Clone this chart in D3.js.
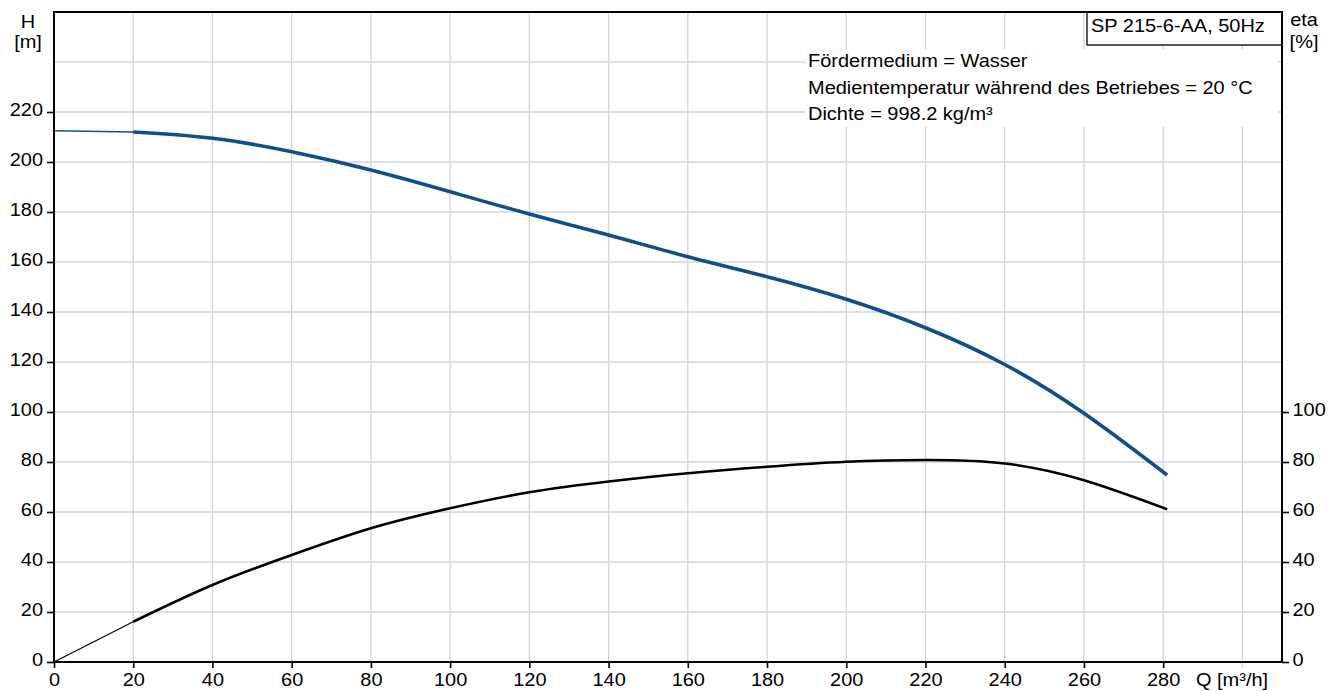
<!DOCTYPE html>
<html>
<head>
<meta charset="utf-8">
<script src="https://cdn.jsdelivr.net/npm/d3@7"></script>
<style>
  html, body { margin: 0; padding: 0; background: #fff; }
  svg { display: block; font-family: "Liberation Sans", Arial, sans-serif; }
</style>
</head>
<body>
<svg id="chart" width="1333" height="691"></svg>
<script>
// Pump curve data: flow Q [m³/h], head H [m], efficiency eta [%]
const flowQ   = [20, 40, 60, 80, 100, 120, 140, 160, 180, 200, 220, 240, 260, 281];
const headH   = [212, 209.5, 204.1, 196.8, 188.1, 179.2, 170.8, 162.1, 154.1, 145.1, 133.7, 119.0, 99.5, 74.8];
const effEta  = [16.1, 30.8, 42.8, 53.5, 61.5, 67.9, 72.2, 75.5, 78.1, 80.1, 80.8, 79.4, 72.7, 61.1];
// Extrapolated lead-in below the minimum operating flow
const leadQ   = [0, 20];
const leadH   = [212.5, 212];
const leadEta = [0, 16.1];

const xTicks   = [0, 20, 40, 60, 80, 100, 120, 140, 160, 180, 200, 220, 240, 260, 280];
const hTicks   = [0, 20, 40, 60, 80, 100, 120, 140, 160, 180, 200, 220];
const etaTicks = [0, 20, 40, 60, 80, 100];
const xGrid    = [20, 40, 60, 80, 100, 120, 140, 160, 180, 200, 220, 240, 260, 280, 300];
const yGrid    = [20, 40, 60, 80, 100, 120, 140, 160, 180, 200, 220, 240];

const pumpTitle = "SP 215-6-AA, 50Hz";
const infoLines = ["Fördermedium = Wasser",
                   "Medientemperatur während des Betriebes = 20 °C",
                   "Dichte = 998.2 kg/m³"];

const FS = 18;        // font size
const SX = 1.11;      // horizontal text stretch
const BLUE = "#0f4f8c";
const GRID = "#d2d4d6";

const svg = d3.select("#chart");
const L = 54, R = 1282, T = 12, B = 662;

const x = d3.scaleLinear().domain([0, 310]).range([L, R]);
const y = d3.scaleLinear().domain([0, 260]).range([B, T]);
const yEta = d3.scaleLinear().domain([0, 260]).range([B, T]);

function label(g, px, py, txt, anchor) {
  return g.append("text")
    .attr("transform", `translate(${px},${py}) scale(${SX},1)`)
    .attr("text-anchor", anchor || "start")
    .attr("font-size", FS)
    .attr("fill", "#000")
    .text(txt);
}

// grid
const grid = svg.append("g");
grid.selectAll("line.v").data(xGrid).join("line")
  .attr("x1", d => x(d)).attr("x2", d => x(d))
  .attr("y1", T).attr("y2", B)
  .attr("stroke", GRID).attr("stroke-width", 1.3);
grid.selectAll("line.h").data(yGrid).join("line")
  .attr("x1", L).attr("x2", R)
  .attr("y1", d => y(d)).attr("y2", d => y(d))
  .attr("stroke", GRID).attr("stroke-width", 1.3);
// small grey tick below the axis at Q = 300
svg.append("line")
  .attr("x1", x(300)).attr("x2", x(300)).attr("y1", B).attr("y2", B + 6)
  .attr("stroke", GRID).attr("stroke-width", 1.3);

// info block background
svg.append("rect").attr("x", 805).attr("y", 49).attr("width", 473).attr("height", 78)
  .attr("fill", "#fff");
infoLines.forEach((t, i) => label(svg, 808, [67, 94, 120][i], t));

// title box
svg.append("rect").attr("x", 1087).attr("y", T).attr("width", R - 1087).attr("height", 33)
  .attr("fill", "#fff").attr("stroke", "#000").attr("stroke-width", 1.3);
label(svg, 1091, 32, pumpTitle);

// curves
const lineH = d3.line().x(d => x(d[0])).y(d => y(d[1])).curve(d3.curveNatural);
const lineE = d3.line().x(d => x(d[0])).y(d => yEta(d[1])).curve(d3.curveNatural);

svg.append("path").attr("d", lineH(d3.zip(leadQ, leadH)))
  .attr("fill", "none").attr("stroke", BLUE).attr("stroke-width", 1.3);
svg.append("path").attr("d", lineH(d3.zip(flowQ, headH)))
  .attr("fill", "none").attr("stroke", BLUE).attr("stroke-width", 3.6);

svg.append("path").attr("d", lineE(d3.zip(leadQ, leadEta)))
  .attr("fill", "none").attr("stroke", "#000").attr("stroke-width", 1.2);
svg.append("path").attr("d", lineE(d3.zip(flowQ, effEta)))
  .attr("fill", "none").attr("stroke", "#000").attr("stroke-width", 2.6);

// frame
svg.append("rect").attr("x", L).attr("y", T).attr("width", R - L).attr("height", B - T)
  .attr("fill", "none").attr("stroke", "#000").attr("stroke-width", 2);

// axes
function styleAxis(g) {
  g.select(".domain").remove();
  g.selectAll(".tick line").attr("stroke", "#000").attr("stroke-width", 1.6);
  g.selectAll(".tick text").attr("font-size", FS).attr("fill", "#000")
    .attr("font-family", '"Liberation Sans", Arial, sans-serif');
}

const gL = svg.append("g").attr("transform", `translate(${L},0)`)
  .call(d3.axisLeft(y).tickValues(hTicks).tickSize(7).tickSizeOuter(0).tickPadding(0));
styleAxis(gL);
gL.selectAll(".tick text").attr("x", null).attr("dy", null)
  .attr("transform", `translate(-11,3.8) scale(${SX},1)`).attr("text-anchor", "end");

const gR = svg.append("g").attr("transform", `translate(${R},0)`)
  .call(d3.axisRight(yEta).tickValues(etaTicks).tickSize(7).tickSizeOuter(0).tickPadding(0));
styleAxis(gR);
gR.selectAll(".tick text").attr("x", null).attr("dy", null)
  .attr("transform", `translate(10.5,3.8) scale(${SX},1)`).attr("text-anchor", "start");

const gB = svg.append("g").attr("transform", `translate(0,${B})`)
  .call(d3.axisBottom(x).tickValues(xTicks).tickSize(6).tickSizeOuter(0).tickPadding(0));
styleAxis(gB);
gB.selectAll(".tick text").attr("y", null).attr("dy", null)
  .attr("transform", `translate(0,24) scale(${SX},1)`).attr("text-anchor", "middle");

// axis titles
label(svg, 28, 28, "H", "middle");
label(svg, 28, 48, "[m]", "middle");
label(svg, 1304, 26, "eta", "middle");
label(svg, 1304, 48, "[%]", "middle");
label(svg, 1196, 686, "Q [m³/h]", "start");
</script>
</body>
</html>
